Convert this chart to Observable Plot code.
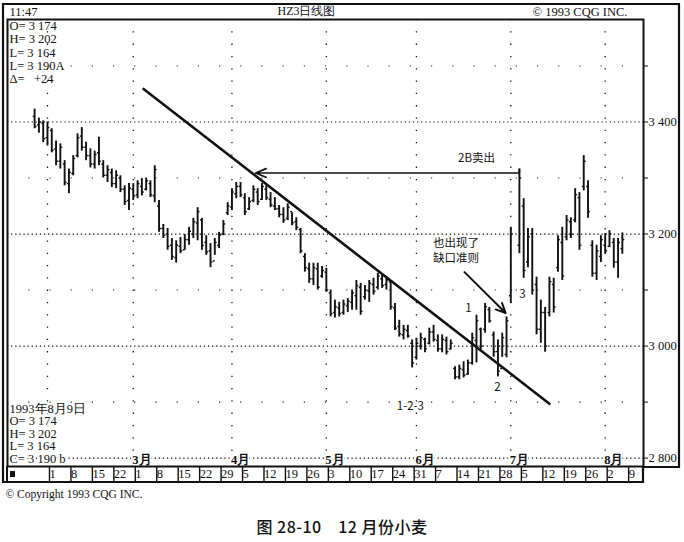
<!DOCTYPE html>
<html><head><meta charset="utf-8">
<script src="https://cdn.jsdelivr.net/npm/d3@7"></script>
<script src="https://cdn.jsdelivr.net/npm/@observablehq/plot@0.6"></script>
<style>
body{margin:0;background:#fff;width:684px;height:542px;overflow:hidden;position:relative;}
#chart svg{display:block;}
#cap{position:absolute;top:514px;left:0;width:684px;text-align:center;font-family:"Noto Sans CJK SC",sans-serif;font-size:16px;font-weight:500;color:#111;letter-spacing:0.5px;}
</style>
</head><body>
<div id="chart"></div>
<div id="cap">图 28-10　12 月份小麦</div>
<script>
// ---- data (trading-day index 0 = 1993-02-01, Monday) ----
const firstDay = -3;
const highs = [3423,3407,3402,3400,3388,3366,3361,3331,3316,3340,3379,3390,3364,3352,3348,3373,3331,3322,3316,3313,3304,3286,3290,3290,3295,3299,3300,3295,3322,3260,3217,3210,3192,3188,3194,3199,3212,3228,3247,3228,3197,3183,3192,3203,3224,3256,3281,3292,3292,3272,3265,3286,3281,3290,3286,3274,3265,3251,3247,3254,3238,3229,3210,3165,3148,3148,3148,3142,3139,3100,3082,3078,3082,3085,3100,3117,3112,3108,3117,3121,3130,3126,3123,3117,3076,3046,3037,3037,3011,3014,3023,3014,3032,3037,3020,3020,3016,3011,2963,2966,2972,2975,3023,3055,3032,3076,3069,3025,3011,3023,3052,3212,null,3316,3263,3210,3210,3123,3082,3069,3123,3121,3197,3212,3233,3229,3281,3274,3340,3295,3188,3180,3197,3201,3206,3192,3192,3202];
const lows  = [3388,3380,3363,3357,3345,3322,3316,3286,3272,3304,3336,3348,3331,3318,3316,3322,3300,3292,3283,3281,3274,3251,3242,3260,3263,3268,3277,3265,3256,3203,3192,3171,3153,3148,3165,3171,3180,3192,3188,3171,3162,3140,3162,3174,3197,3233,3242,3263,3265,3233,3242,3256,3251,3260,3260,3247,3242,3229,3219,3224,3215,3206,3165,3132,3112,3108,3100,3121,3096,3052,3050,3052,3055,3060,3064,3064,3055,3082,3078,3091,3100,3103,3100,3064,3028,3016,3011,3014,2961,2975,2993,2988,3002,3007,2989,2988,2984,2993,2940,2940,2943,2948,2966,2970,2993,3023,3041,2980,2945,2980,2979,3076,null,3165,3121,3140,3091,3020,3005,2989,3052,3059,3132,3117,3188,3192,3220,3171,3277,3228,3123,3117,3149,3165,3176,3139,3121,3164];
const opens = [3410,3395,3398,3372,3385,3352,3330,3325,3290,3308,3340,3375,3355,3340,3325,3345,3325,3305,3310,3290,3300,3280,3260,3280,3270,3285,3280,3290,3268,3250,3210,3200,3180,3158,3178,3172,3190,3200,3220,3225,3185,3170,3152,3180,3200,3238,3248,3272,3285,3265,3245,3260,3275,3262,3280,3262,3250,3245,3235,3228,3240,3222,3208,3160,3138,3120,3138,3125,3132,3095,3060,3068,3060,3072,3078,3090,3105,3088,3098,3110,3105,3120,3110,3115,3068,3035,3020,3028,3005,2980,3000,3012,3005,3025,3010,2995,3010,2995,2960,2945,2958,2950,2970,3010,3030,3030,3065,3020,2990,2960,2985,3090,null,3180,3250,3150,3200,3110,3030,3060,3060,3110,3140,3185,3195,3222,3225,3265,3285,3285,3180,3130,3160,3180,3178,3185,3150,3174];
const closes = [3392,3400,3370,3390,3350,3330,3355,3292,3310,3335,3372,3355,3340,3325,3342,3330,3305,3315,3290,3305,3280,3258,3282,3268,3290,3275,3295,3270,3315,3210,3198,3178,3160,3180,3170,3190,3205,3222,3240,3180,3168,3150,3185,3198,3218,3250,3275,3285,3270,3240,3258,3280,3258,3285,3265,3252,3245,3235,3225,3248,3220,3212,3170,3140,3120,3140,3105,3135,3100,3058,3070,3058,3075,3080,3095,3108,3062,3100,3112,3098,3125,3108,3118,3070,3032,3022,3030,3018,2970,3005,3015,2995,3025,3012,2995,3012,2990,3005,2945,2960,2948,2970,3015,3045,3000,3070,3045,2990,2955,3015,3045,3200,null,3300,3135,3195,3100,3030,3060,3000,3115,3070,3190,3125,3225,3200,3270,3180,3330,3240,3130,3170,3190,3170,3200,3150,3185,3190];

const weekLabels = ["1","8","15","22","1","8","15","22","29","5","12","19","26","3","10","17","24","31","7","14","21","28","5","12","19","26","2","9"];
const monthDays = [0,20,43,65,86,108,130];
const monthLabels = ["","3月","4月","5月","6月","7月","8月"];
const priceLabels = [2800,3000,3200,3400];
const priceMinor = [2900,3100,3300,3500];

const trendDays = [22.4,117];
const trendPrices = [3459,2897];

const sellLine = {fromDay:110, toDay:48.5, price:3309};
const gapArrow = {fromDay:97.2, fromPrice:3132, toDay:106.8, toPrice:3059};

const annText = ["2B卖出","也出现了","缺口准则","1","2","3","1-2-3"];
const annDay = [100,95.2,95.2,98.1,104.9,110.7,84.6];
const annPrice = [3336,3183,3157,3068,2927,3092,2893];

const topInfo = ["O= 3 174","H= 3 202","L= 3 164","L= 3 190A","Δ=   +24"];
const bottomInfo = ["1993年8月9日","O= 3 174","H= 3 202","L= 3 164","C= 3 190 b"];

// ---- build tables ----
const bars = highs.map((h,i)=>({d:firstDay+i, high:h, low:lows[i], open:opens[i], close:closes[i]})).filter(b=>b.high!=null);
const weekDays = weekLabels.map((_,i)=>i*5);
const weekMap = new Map(weekDays.map((d,i)=>[d,weekLabels[i]]));
const months = monthDays.map((d,i)=>({d,label:monthLabels[i]})).filter(m=>m.label);
const trend = trendDays.map((d,i)=>({d,p:trendPrices[i]}));
const anns = annText.map((t,i)=>({t,d:annDay[i],p:annPrice[i]}));
const fmt = v => d3.format(",")(v).replace(/,/g," ");

const serif = "Liberation Serif, Times New Roman, serif";

const chart = Plot.plot({
  width:684, height:500,
  marginLeft:7, marginRight:41, marginTop:19, marginBottom:34,
  x:{type:"linear", domain:[-9.32,138.93], axis:null},
  y:{type:"linear", domain:[2785,3583], axis:null},
  style:{fontFamily:serif, fontSize:"12px", color:"black", background:"white", overflow:"visible"},
  marks:[
    Plot.ruleY(priceMinor,{stroke:"#222", strokeDasharray:"1.2,20", strokeWidth:1.1}),
    Plot.ruleY(priceLabels,{stroke:"#111", strokeDasharray:"1.3,2.8", strokeWidth:1.2}),
    Plot.ruleX(monthDays,{stroke:"#111", strokeDasharray:"1.3,11", strokeWidth:1.3}),
    Plot.ruleX(bars,{x:"d", y1:"low", y2:"high", stroke:"#111", strokeWidth:1.9}),
    Plot.link(bars,{x1:b=>b.d-0.45, x2:"d", y1:"open", y2:"open", stroke:"#111", strokeWidth:1.4}),
    Plot.link(bars,{x1:"d", x2:b=>b.d+0.45, y1:"close", y2:"close", stroke:"#111", strokeWidth:1.4}),
    Plot.line(trend,{x:"d", y:"p", stroke:"#111", strokeWidth:2.6}),
    Plot.arrow([sellLine],{x1:"fromDay", x2:"toDay", y1:"price", y2:"price", stroke:"#111", strokeWidth:1.7, headLength:10, headAngle:45}),
    Plot.ruleX([sellLine],{x:"fromDay", y1:"price", y2:()=>3316, stroke:"#111", strokeWidth:1.7}),
    Plot.arrow([gapArrow],{x1:"fromDay", y1:"fromPrice", x2:"toDay", y2:"toPrice", stroke:"#111", strokeWidth:2, headLength:8, headAngle:50}),
    Plot.text(anns,{x:"d", y:"p", text:"t", fontFamily:"Noto Sans CJK SC, "+serif, fontSize:11.5, fill:"#111"}),
    Plot.text(months,{x:"d", y:()=>2800, text:"label", textAnchor:"start", dx:-1, dy:2, fontSize:12.5, fontWeight:"bold", fill:"#111", stroke:"white", strokeWidth:4}),
    Plot.text([topInfo.join("\n")],{frameAnchor:"top-left", lineAnchor:"top", dx:2, dy:1, lineHeight:1.07, fontSize:12.5, fill:"#111"}),
    Plot.text([bottomInfo.join("\n")],{frameAnchor:"bottom-left", lineAnchor:"bottom", dx:2, dy:-4, lineHeight:1.0, fontSize:12.5, fill:"#111", stroke:"white", strokeWidth:3}),
    Plot.text(["11:47"],{frameAnchor:"top-left", lineAnchor:"middle", dx:2, dy:-8, fontSize:12.5, fill:"#111"}),
    Plot.text(["HZ3日线图"],{frameAnchor:"top", lineAnchor:"middle", dx:-19, dy:-8, fontSize:12, fill:"#111"}),
    Plot.text(["© 1993 CQG INC."],{frameAnchor:"top-right", lineAnchor:"middle", textAnchor:"end", dx:-16, dy:-8, fontSize:12.5, fill:"#111"}),
    Plot.text(["© Copyright 1993 CQG INC."],{frameAnchor:"bottom-left", lineAnchor:"middle", dx:-2, dy:28, fontSize:11.5, fill:"#111"}),
    Plot.frame({stroke:"#111", strokeWidth:2}),
    Plot.axisY(priceMinor,{anchor:"right", tickSize:4, tickFormat:()=>"", stroke:"#111"}),
    Plot.axisY(priceLabels,{anchor:"right", tickSize:4, tickPadding:1, tickFormat:fmt, fontSize:12.5, fill:"#111", stroke:"#111"}),
    Plot.axisX(weekDays,{anchor:"bottom", tickSize:16, tickPadding:-13, textAnchor:"start", dx:2, tickFormat:d=>weekMap.get(d), fontSize:12.5, fill:"#111", stroke:"#111", strokeWidth:1.4})
  ]
});
document.getElementById("chart").appendChild(chart);

// outer chart border and axis row box (decoration)
const svg = d3.select(chart);
svg.append("path")
  .attr("d","M3,4H679V467H643V482H3Z")
  .attr("fill","none").attr("stroke","#111").attr("stroke-width",2.2);
svg.append("line").attr("x1",643).attr("x2",643).attr("y1",466).attr("y2",482).attr("stroke","#111").attr("stroke-width",2);
svg.append("line").attr("x1",7).attr("x2",7).attr("y1",466).attr("y2",482).attr("stroke","#111").attr("stroke-width",2);
svg.append("rect").attr("x",10).attr("y",471).attr("width",5).attr("height",6).attr("fill","#111");
</script>
</body></html>
